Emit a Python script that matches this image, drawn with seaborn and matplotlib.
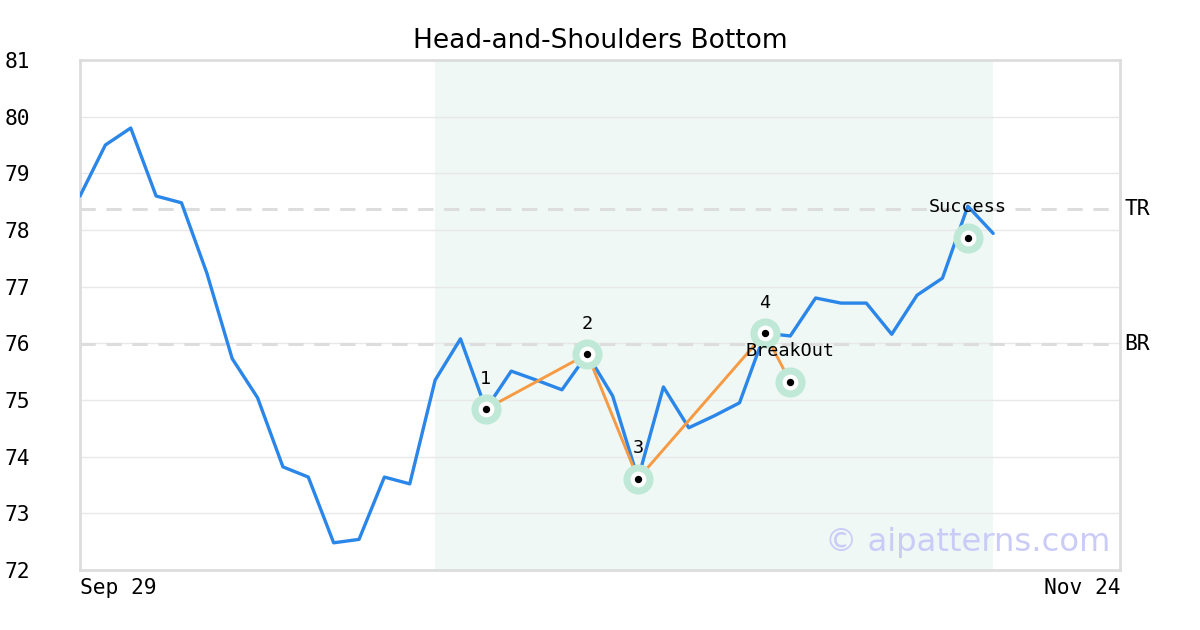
import matplotlib
matplotlib.use("Agg")
import matplotlib.pyplot as plt
import seaborn as sns
import numpy as np
import pandas as pd

# ---- data ----
prices = [78.60, 79.50, 79.80, 78.60, 78.48, 77.24, 75.73, 75.04, 73.82, 73.64,
          72.48, 72.54, 73.64, 73.52, 75.35, 76.08, 74.84, 75.51, 75.35, 75.18,
          75.81, 75.07, 73.61, 75.23, 74.51, 74.72, 74.95, 76.18, 76.13, 76.80,
          76.71, 76.71, 76.16, 76.85, 77.15, 78.42, 77.94]
pivot_idx = [16, 20, 22, 27, 28]
pivot_val = [74.84, 75.81, 73.61, 76.18, 75.32]
pivot_labels = ["1", "2", "3", "4", "BreakOut"]
success_idx = 35
success_val = 77.86
success_label = "Success"
tr_level = 78.37
br_level = 75.99
shade_range = (14, 36)
x_tick_labels = ["Sep 29", "Nov 24"]
x_tick_pos = [0, 41]
y_ticks = list(range(72, 82))
title = "Head-and-Shoulders Bottom"

sns.set_theme(style="white")
plt.rcParams['font.family'] = ['DejaVu Sans']
plt.rcParams['text.color'] = 'black'
plt.rcParams['xtick.color'] = 'black'
plt.rcParams['ytick.color'] = 'black'

fig = plt.figure(figsize=(12, 6.3), dpi=100)
ax = fig.add_axes([80/1200, 60/630, 1040/1200, 510/630])

df = pd.DataFrame({"x": np.arange(len(prices)), "price": prices})

ax.axvspan(shade_range[0], shade_range[1], color="#eff8f5", zorder=0, lw=0)
for y in y_ticks:
    ax.axhline(y, color="#e8e8e8", lw=1, zorder=0.5)
for lvl in (tr_level, br_level):
    ax.axhline(lvl, color="#dddddd", lw=2.2, ls=(0, (5, 3.5)), zorder=0.6)

sns.lineplot(data=df, x="x", y="price", ax=ax, color="#2a86e8", lw=2.4, zorder=3)
pv = pd.DataFrame({"x": pivot_idx, "price": pivot_val})
sns.lineplot(data=pv, x="x", y="price", ax=ax, color="#f79a44", lw=2.1, zorder=3.5)

mx = pivot_idx + [success_idx]
my = pivot_val + [success_val]
ax.scatter(mx, my, s=470, color="#bfe9d6", zorder=4, lw=0)
ax.scatter(mx, my, s=130, color="white", zorder=5, lw=0)
ax.scatter(mx, my, s=28, color="black", zorder=6, lw=0)

for xi, yi, lab in zip(mx, my, pivot_labels + [success_label]):
    ax.annotate(lab, (xi, yi), xytext=(0, 22), textcoords="offset points",
                ha="center", va="center", fontsize=13.3, family="DejaVu Sans Mono",
                color="black", zorder=7)

ax.set_xlim(0, 41)
ax.set_ylim(72, 81)
ax.set_yticks(y_ticks)
ax.set_yticklabels([str(v) for v in y_ticks], family="DejaVu Sans Mono", fontsize=15.3)
ax.set_xticks(x_tick_pos)
xl = ax.set_xticklabels(x_tick_labels, family="DejaVu Sans Mono", fontsize=15.3)
xl[0].set_ha("left")
xl[1].set_ha("right")
ax.tick_params(axis="both", length=0, pad=6)
ax.tick_params(axis="y", pad=54)
for t in ax.get_yticklabels():
    t.set_ha("left")
ax.set_xlabel("")
ax.set_ylabel("")

for s in ax.spines.values():
    s.set_color("#dddddd")
    s.set_linewidth(2)
    s.set_visible(True)

ax.text(1.004, tr_level, "TR", transform=ax.get_yaxis_transform(), va="center",
        ha="left", fontsize=15.3, family="DejaVu Sans Mono")
ax.text(1.004, br_level, "BR", transform=ax.get_yaxis_transform(), va="center",
        ha="left", fontsize=15.3, family="DejaVu Sans Mono")

ax.text(0.9904, 0.054, "© aipatterns.com", transform=ax.transAxes, ha="right",
        va="center", fontsize=23.2, color="#cbcbf8", zorder=8)

fig.text(0.5, 1 - 41/630, title, ha="center", va="center", fontsize=19)

fig.savefig("out.png", dpi=100)
